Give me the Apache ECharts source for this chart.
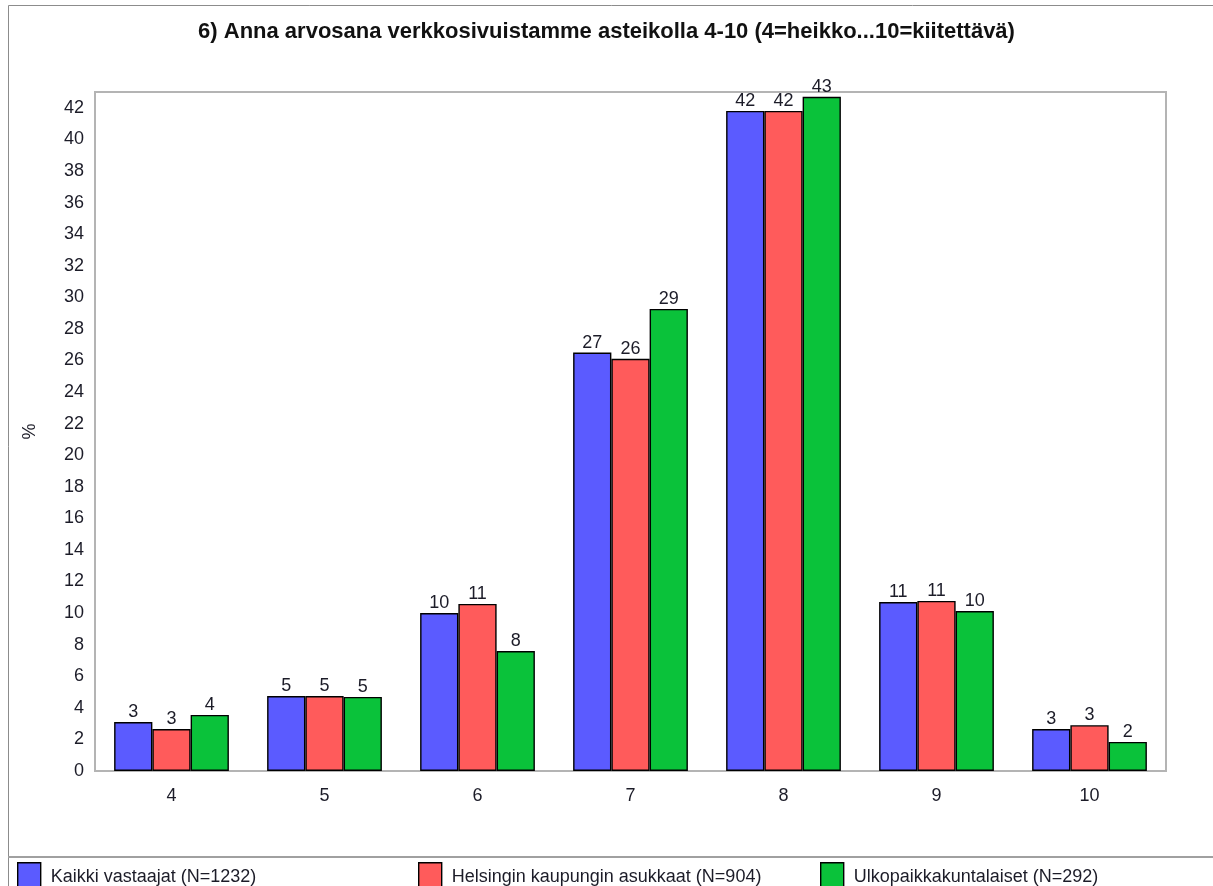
<!DOCTYPE html>
<html>
<head>
<meta charset="utf-8">
<script src="https://cdn.jsdelivr.net/npm/echarts@6/dist/echarts.min.js"></script>
<style>
  html, body { margin: 0; padding: 0; background: #fff; }
  #chart { width: 1213px; height: 886px; }
</style>
</head>
<body>
<div id="chart"></div>
<script>
// Arvosanat 4–10
const categories = ['4', '5', '6', '7', '8', '9', '10'];

// Osuudet prosentteina
const kaikki = [3.1, 4.75, 10.0, 26.5, 41.8, 10.7, 2.66];
const helsinki = [2.66, 4.75, 10.58, 26.1, 41.8, 10.77, 2.9];
const ulkopaikka = [3.55, 4.69, 7.6, 29.26, 42.7, 10.13, 1.84];

const seriesNames = [
  'Kaikki vastaajat (N=1232)',
  'Helsingin kaupungin asukkaat (N=904)',
  'Ulkopaikkakuntalaiset (N=292)'
];
const colors = ['#5b5bff', '#ff5b5b', '#0ac23a'];

const FONT = 'Liberation Sans, Arial, sans-serif';
const TXT = '#1c1c28';
const FS = 18;
const chart = echarts.init(document.getElementById('chart'));

function barSeries(name, data, color) {
  return {
    name: name,
    type: 'bar',
    data: data,
    barGap: '0%',
    barCategoryGap: '25%',
    itemStyle: { color: color, borderColor: '#000', borderWidth: 1.4 },
    label: {
      show: true,
      position: 'top',
      distance: 1,
      color: TXT,
      fontFamily: FONT,
      fontSize: FS,
      formatter: p => Math.round(p.value)
    },
    emphasis: { disabled: true }
  };
}

function legendAt(name, left) {
  return {
    data: [name],
    left: left,
    top: 857,
    icon: 'rect',
    itemWidth: 23,
    itemHeight: 28,
    selectedMode: false,
    itemStyle: { borderColor: '#000', borderWidth: 1.4 },
    textStyle: { fontFamily: FONT, fontSize: FS, color: TXT, padding: [0, 0, 0, 5] }
  };
}

chart.setOption({
  animation: false,
  backgroundColor: '#fff',
  color: colors,
  title: {
    text: '6) Anna arvosana verkkosivuistamme asteikolla 4-10 (4=heikko...10=kiitettävä)',
    left: 'center',
    top: 16,
    textStyle: { fontFamily: FONT, fontSize: 22, fontWeight: 'bold', color: '#111' }
  },
  legend: [
    legendAt(seriesNames[0], 12),
    legendAt(seriesNames[1], 413),
    legendAt(seriesNames[2], 815)
  ],
  grid: {
    left: 95,
    top: 92,
    width: 1071,
    height: 679,
    show: true,
    borderColor: '#b4b4b4',
    borderWidth: 2,
    backgroundColor: 'transparent'
  },
  xAxis: {
    type: 'category',
    data: categories,
    axisLine: { show: true, lineStyle: { color: '#b4b4b4', width: 2 } },
    axisTick: { show: false },
    axisLabel: { fontFamily: FONT, fontSize: FS, color: TXT, margin: 16 },
    splitLine: { show: false }
  },
  yAxis: {
    type: 'value',
    min: 0,
    max: 43,
    interval: 2,
    name: '%',
    nameLocation: 'middle',
    nameGap: 56,
    nameRotate: 90,
    nameTextStyle: { fontFamily: FONT, fontSize: FS, color: TXT },
    axisLine: { show: false },
    axisTick: { show: false },
    splitLine: { show: false },
    axisLabel: {
      fontFamily: FONT, fontSize: FS, color: TXT, margin: 11,
      showMaxLabel: false
    }
  },
  series: [
    barSeries(seriesNames[0], kaikki, colors[0]),
    barSeries(seriesNames[1], helsinki, colors[1]),
    barSeries(seriesNames[2], ulkopaikka, colors[2])
  ],
  graphic: [
    // outer frame
    {
      type: 'rect',
      shape: { x: 8.5, y: 5.5, width: 1220, height: 900 },
      style: { fill: 'none', stroke: '#8c8c8c', lineWidth: 1 },
      silent: true
    },
    // separator above the legend row
    {
      type: 'line',
      shape: { x1: 8, y1: 857, x2: 1213, y2: 857 },
      style: { stroke: '#a0a0a0', lineWidth: 2 },
      silent: true
    }
  ]
});
</script>
</body>
</html>
